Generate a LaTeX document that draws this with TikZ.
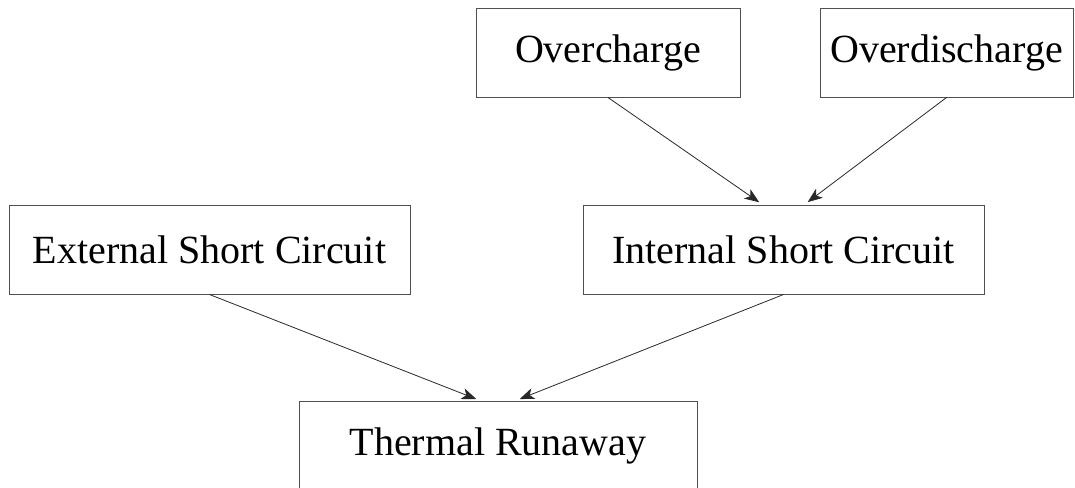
\documentclass[tikz,border=0pt]{standalone}
\usepackage{fontspec}
\setmainfont{Liberation Serif}
\usetikzlibrary{arrows.meta}

\definecolor{boxline}{RGB}{80,80,80}
\tikzset{every picture/.style={line width=0.75pt}}
\tikzset{
  causebox/.style={draw=boxline, fill=white, inner sep=0pt, minimum height=66.75pt,
    font=\fontsize{30}{36}\selectfont},
  flow/.style={draw={rgb, 255:red, 40; green, 40; blue, 40}, line width=0.6pt,
    -{Stealth[length=11pt,width=8.5pt,inset=3pt]}, shorten >=3pt}
}

\begin{document}
\begin{tikzpicture}[x=0.75pt,y=0.75pt,yscale=-1,xscale=1]
	\useasboundingbox (0,0) rectangle (1075,487);

	% Cause boxes, top row
	\node[causebox, minimum width=198pt] (over) at (608,52.5) {Overcharge};
	\node[causebox, minimum width=189.75pt] (overdis) at (946.5,52.5) {Overdischarge};

	% Short circuit boxes
	\node[causebox, minimum width=300.75pt] (ext) at (209.5,249.5) {External Short Circuit};
	\node[causebox, minimum width=300.75pt] (int) at (783.5,249.5) {Internal Short Circuit};

	% Result
	\node[causebox, minimum width=298.5pt] (thermal) at (498,445.5) {Thermal Runaway};

	% Arrows
	\draw[flow] (over.south) -- ([xshift=-15.75pt]int.north);
	\draw[flow] (overdis.south) -- ([xshift=15.75pt]int.north);
	\draw[flow] (ext.south) -- ([xshift=-13.5pt]thermal.north);
	\draw[flow] (int.south) -- ([xshift=13.5pt]thermal.north);

\end{tikzpicture}
\end{document}
